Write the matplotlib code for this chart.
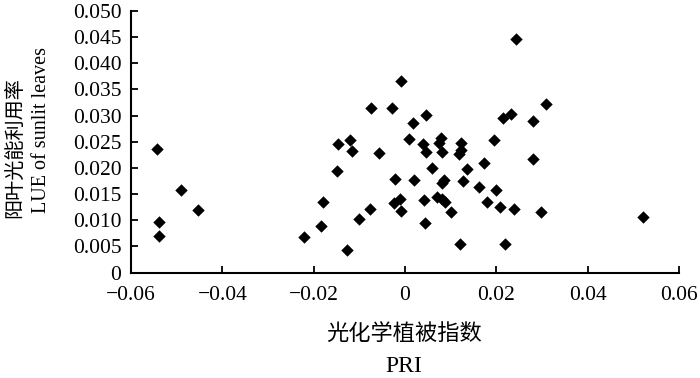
import matplotlib
matplotlib.use("Agg")
import matplotlib.pyplot as plt

# PRI values (x) and LUE of sunlit leaves (y)
pri = [-0.0544, -0.0491, -0.0453, -0.0538, -0.0538, -0.0221, -0.0183, -0.0180,
       -0.0147, -0.0120, -0.0115, -0.0150, -0.0126, -0.0101, -0.0077, -0.0056,
       -0.0021, -0.0023, -0.0012, -0.0009, 0.0009, 0.0020, 0.0040, 0.0046,
       0.0041, 0.0044, 0.0059, 0.0079, 0.0074, 0.0080, 0.0085, 0.0082,
       0.0070, 0.0080, 0.0088, 0.0100, 0.0123, 0.0123, 0.0118, 0.0126,
       0.0135, 0.0120, 0.0173, 0.0162, 0.0180, 0.0194, 0.0200, 0.0209,
       0.0218, 0.0239, 0.0280, 0.0297, 0.0244, -0.0009, -0.0074, -0.0029,
       0.0047, 0.0018, 0.0215, 0.0232, 0.0280, 0.0308, 0.0521]
lue = [0.0237, 0.0158, 0.0119, 0.0097, 0.0070, 0.0068, 0.0089, 0.0135,
       0.0246, 0.0253, 0.0232, 0.0194, 0.0043, 0.0102, 0.0122, 0.0228,
       0.0179, 0.0133, 0.0140, 0.0118, 0.0256, 0.0176, 0.0245, 0.0230,
       0.0138, 0.0094, 0.0199, 0.0257, 0.0248, 0.0230, 0.0176, 0.0171,
       0.0145, 0.0141, 0.0135, 0.0115, 0.0247, 0.0234, 0.0227, 0.0174,
       0.0197, 0.0054, 0.0210, 0.0163, 0.0135, 0.0254, 0.0158, 0.0125,
       0.0055, 0.0122, 0.0217, 0.0115, 0.0446, 0.0366, 0.0315, 0.0315,
       0.0302, 0.0286, 0.0295, 0.0304, 0.0289, 0.0323, 0.0106]

xticks = [-0.06, -0.04, -0.02, 0, 0.02, 0.04, 0.06]
xtick_labels = ["\u22120.06", "\u22120.04", "\u22120.02", "0", "0.02", "0.04", "0.06"]
yticks = [0, 0.005, 0.010, 0.015, 0.020, 0.025, 0.030, 0.035, 0.040, 0.045, 0.050]
ytick_labels = ["0", "0.005", "0.010", "0.015", "0.020", "0.025", "0.030",
                "0.035", "0.040", "0.045", "0.050"]

serif = ["Liberation Serif", "DejaVu Serif"]
cjk = ["Noto Sans CJK SC", "DejaVu Sans"]

fig = plt.figure(figsize=(7, 3.78), dpi=100)
ax = fig.add_axes([131 / 700, 1 - 272.5 / 378, 548 / 700, 261.5 / 378])

ax.scatter(pri, lue, marker="D", s=40, color="black", linewidths=0, clip_on=False)

ax.set_xlim(-0.06, 0.06)
ax.set_ylim(0, 0.05)
ax.set_xticks(xticks)
ax.set_xticklabels(xtick_labels, family=serif, fontsize=15.5)
ax.set_yticks(yticks)
ax.set_yticklabels(ytick_labels, family=serif, fontsize=15.5)
ax.tick_params(direction="in", length=5, width=1.3)
ax.tick_params(axis="x", pad=10)
ax.tick_params(axis="y", pad=7)

for s in ["top", "right"]:
    ax.spines[s].set_visible(False)
for s in ["left", "bottom"]:
    ax.spines[s].set_linewidth(1.5)

#axis titles
fig.text(404 / 700, 1 - 333 / 378, "光化学植被指数", family=cjk, fontsize=16,
         ha="center", va="center")
fig.text(404 / 700, 1 - 366 / 378, "PRI", family=serif, fontsize=17,
         ha="center", va="center")
fig.text(15 / 700, 1 - 148 / 378, "阳叶光能利用率", family=cjk, fontsize=14.5,
         ha="center", va="center", rotation=90)
fig.text(42 / 700, 1 - 130 / 378, "LUE of sunlit leaves", family=serif, fontsize=14.5,
         ha="center", va="center", rotation=90)

fig.savefig("out.png", dpi=100)
